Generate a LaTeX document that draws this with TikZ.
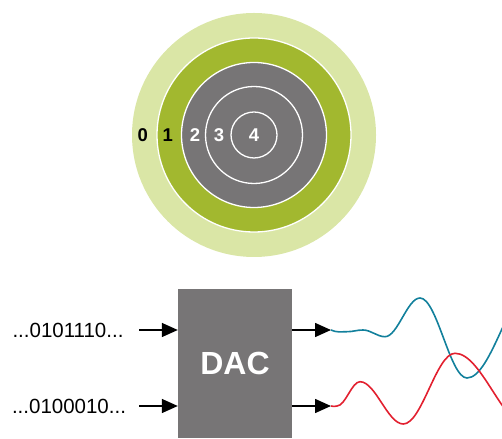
\documentclass[tikz,border=0pt]{standalone}
\usepackage{fontspec}
\setmainfont{Liberation Sans}
\usetikzlibrary{arrows.meta}
\definecolor{lightg}{HTML}{DAE6A6}
\definecolor{darkg}{HTML}{A2B82F}
\definecolor{greyc}{HTML}{777576}
\definecolor{tealc}{HTML}{12809C}
\definecolor{redc}{HTML}{E2202F}
\begin{document}
\begin{tikzpicture}[x=1pt,y=1pt,
  ring/.style={draw=white,line width=1.3pt},
  lbl/.style={font=\bfseries\fontsize{18.5}{18.5}\selectfont,inner sep=0pt},
  bits/.style={font=\fontsize{20.5}{21}\selectfont,inner sep=0pt},
  arr/.style={line width=1.5pt,-{Triangle[length=16pt,width=14pt]}},
  wave/.style={line width=1.6pt}]
\useasboundingbox (0,0) rectangle (502,438);
% target circles
\coordinate (c) at (254,303);
\fill[lightg] (c) circle (122);
\fill[darkg,ring] (c) circle (97);
\fill[greyc,ring] (c) circle (72.5);
\draw[ring] (c) circle (48.5);
\draw[ring] (c) circle (23);
\node[lbl,text=black] (l0) at (142.7,303) {0};
\node[lbl,text=black] (l1) at (167.7,303) {1};
\node[lbl,text=white] (l2) at (195,303) {2};
\node[lbl,text=white] (l3) at (219,303) {3};
\node[lbl,text=white] (l4) at (254,303) {4};
% DAC
\node[fill=greyc,minimum width=114pt,minimum height=149pt,inner sep=0pt,
  font=\bfseries\fontsize{32}{32}\selectfont,text=white] (dac) at (235,74.5) {DAC};
\node[bits] (in1) at (68,108) {...0101110...};
\node[bits] (in2) at (69,32) {...0100010...};
\coordinate (o1) at (331,108);
\coordinate (o2) at (331,32);
\draw[arr] (139,108) -- (dac.west |- in1);
\draw[arr] (139,32) -- (dac.west |- in2);
\draw[arr] (dac.east |- o1) -- (o1);
\draw[arr] (dac.east |- o2) -- (o2);
\begin{scope}
\clip (0,0) rectangle (502,438);
\draw[wave,tealc] (o1) to[out=-25,in=180] (347,106.3) to[out=0,in=180] (363,108)
  .. controls (371,108) and (377,101.3) .. (385,101.3)
  .. controls (397.6,101.3) and (407.4,140) .. (420,140)
  .. controls (437,140) and (450,60) .. (467,60)
  .. controls (492,60) and (511,156) .. (536,156);
\draw[wave,redc] (o2) to[out=-30,in=180] (337,32)
  .. controls (345.3,32) and (351.7,56.3) .. (360,56.3)
  .. controls (375.6,56.3) and (387.7,14) .. (403.3,14)
  .. controls (421.9,14) and (436.4,84.7) .. (455,84.7)
  .. controls (482,84.7) and (503,10) .. (530,10);
\end{scope}
\end{tikzpicture}
\end{document}
